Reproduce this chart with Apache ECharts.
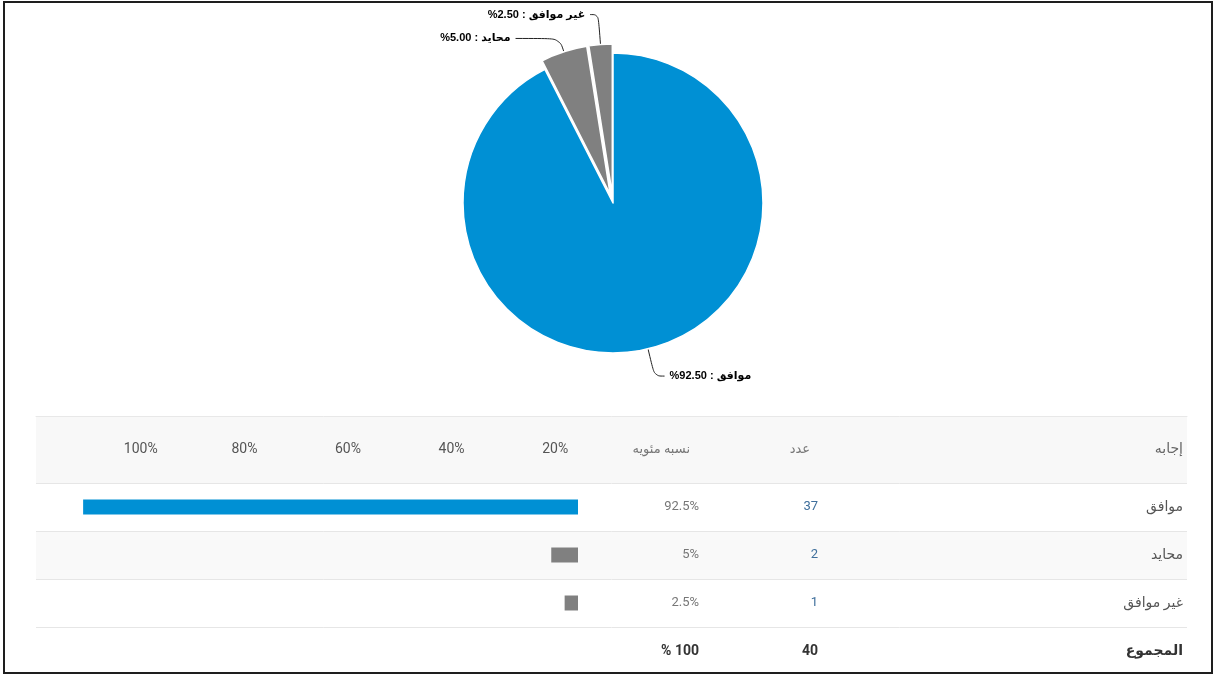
<!DOCTYPE html>
<html lang="ar">
<head>
<meta charset="utf-8">
<title>موافق / محايد / غير موافق</title>
<script src="https://cdn.jsdelivr.net/npm/echarts@6/dist/echarts.min.js"></script>
<style>
  html, body { margin: 0; padding: 0; background: #fff; }
  #chart { width: 1215px; height: 675px; }
</style>
</head>
<body>
<div id="chart"></div>
<script>
// Survey answers
const answers = ['موافق', 'محايد', 'غير موافق'];
const counts = [37, 2, 1];
const percents = [92.5, 5, 2.5];
const totalName = 'المجموع';
const totalCount = 40;
const totalPercentText = '% 100';
// Header scale labels above the bar column
const scaleTicks = ['100%', '80%', '60%', '40%', '20%'];
// Column headings
const headAnswer = 'إجابه';
const headCount = 'عدد';
const headPercent = 'نسبه مئويه';

const sliceColors = ['#0090d4', '#808080', '#808080'];
// leader line shape per slice: [first segment, second segment]
const leaderLines = [[28, 10], [14, 44], [30, 8]];
const FONT = 'Roboto, "DejaVu Sans", sans-serif';

const rowNames = answers.concat([totalName]);
const percentTexts = percents.map(p => p + '%').concat([totalPercentText]);
const countTexts = counts.map(String).concat([String(totalCount)]);

const pieData = answers.map((name, i) => ({
  name: name,
  value: counts[i],
  selected: i > 0,
  itemStyle: { color: sliceColors[i] },
  labelLine: { length: leaderLines[i][0], length2: leaderLines[i][1] }
}));

const barData = percents.map((v, i) => ({
  value: v,
  itemStyle: { color: sliceColors[i] }
}));

function lastBold() {
  return {
    formatter: (val, idx) => idx === rowNames.length - 1 ? '{b|' + val + '}' : val,
    rich: { b: { fontWeight: 'bold', color: '#333', fontSize: 14, fontFamily: FONT } }
  };
}

const hiddenCat = (gridIndex, data) => ({
  type: 'category', gridIndex: gridIndex, data: data, inverse: true, show: false
});

const textColumn = (data, offset, color) => ({
  type: 'category',
  gridIndex: 0,
  data: data,
  inverse: true,
  position: 'right',
  offset: offset,
  axisLine: { show: false },
  axisTick: { show: false },
  splitLine: { show: false },
  axisLabel: Object.assign({
    inside: true,
    margin: 0,
    color: color,
    fontSize: 13,
    fontFamily: FONT
  }, lastBold())
});

const chart = echarts.init(document.getElementById('chart'), null, { renderer: 'canvas' });

chart.setOption({
  backgroundColor: '#ffffff',
  animation: false,
  graphic: [{
    type: 'rect',
    shape: { x: 4, y: 2, width: 1208, height: 671 },
    style: { fill: 'none', stroke: '#1e1e1e', lineWidth: 2 },
    z: 100
  }],
  grid: [
    // 0: table rows (full width)
    { left: 36, right: 28, top: 483, height: 192 },
    // 1: header band
    { left: 36, right: 28, top: 416, height: 67, show: true, backgroundColor: '#f8f8f8', borderWidth: 0 },
    // 2: bar column
    { left: 43, right: 637, top: 483, height: 192 },
    // 3: header scale labels
    { left: 89, width: 518, top: 416, height: 33 }
  ],
  xAxis: [
    { type: 'value', gridIndex: 0, show: false },
    {
      type: 'category', gridIndex: 1, position: 'top', data: [''],
      axisLine: { show: true, lineStyle: { color: '#e8e8e8', width: 1 } },
      axisTick: { show: false }, axisLabel: { show: false }
    },
    { type: 'value', gridIndex: 2, min: 0, max: 100, inverse: true, show: false },
    {
      type: 'category', gridIndex: 3, data: scaleTicks,
      axisLine: { show: false }, axisTick: { show: false },
      axisLabel: { margin: 0, verticalAlign: 'middle', color: '#555', fontSize: 14, fontFamily: FONT }
    }
  ],
  yAxis: [
    // 0: answer names, row lines and shading
    {
      type: 'category',
      gridIndex: 0,
      data: rowNames,
      inverse: true,
      position: 'right',
      axisLine: { show: false },
      axisTick: { show: false },
      axisLabel: Object.assign({
        inside: true, margin: 4, color: '#555', fontSize: 14, fontFamily: FONT
      }, lastBold()),
      splitLine: { show: true, showMinLine: true, showMaxLine: false, lineStyle: { color: '#e6e6e6', width: 1 } },
      splitArea: { show: true, areaStyle: { color: ['rgba(255,255,255,0)', '#f9f9f9', 'rgba(255,255,255,0)', 'rgba(255,255,255,0)'] } }
    },
    // 1: percentage column
    textColumn(percentTexts, -488, '#777'),
    // 2: count column
    textColumn(countTexts, -369, '#3f6f9c'),
    // 3-5: header headings
    {
      type: 'category', gridIndex: 1, data: [headAnswer], position: 'right',
      axisLine: { show: false }, axisTick: { show: false },
      axisLabel: { inside: true, margin: 4, color: '#666', fontSize: 14, fontFamily: FONT }
    },
    {
      type: 'category', gridIndex: 1, data: [headCount], position: 'right', offset: -377,
      axisLine: { show: false }, axisTick: { show: false },
      axisLabel: { inside: true, margin: 0, color: '#777', fontSize: 13, fontFamily: FONT }
    },
    {
      type: 'category', gridIndex: 1, data: [headPercent], position: 'right', offset: -497,
      axisLine: { show: false }, axisTick: { show: false },
      axisLabel: { inside: true, margin: 0, color: '#777', fontSize: 13, fontFamily: FONT }
    },
    // 6: bar column categories
    hiddenCat(2, rowNames),
    // 7: header scale grid
    { type: 'value', gridIndex: 3, show: false }
  ],
  series: [
    {
      type: 'pie',
      center: [613, 203],
      radius: 150,
      startAngle: 90,
      clockwise: true,
      selectedMode: 'multiple',
      selectedOffset: 9,
      avoidLabelOverlap: false,
      itemStyle: { borderColor: '#fff', borderWidth: 1.5 },
      label: {
        color: '#000',
        fontWeight: 'bold',
        fontSize: 11,
        fontFamily: '"Liberation Sans", "DejaVu Sans", sans-serif',
        formatter: p => '%' + p.percent.toFixed(2) + ' : ' + p.name
      },
      labelLine: {
        show: true,
        smooth: 0.4,
        lineStyle: { color: '#222', width: 1 }
      },
      emphasis: { disabled: true },
      data: pieData
    },
    {
      type: 'bar',
      xAxisIndex: 2,
      yAxisIndex: 6,
      barWidth: 15,
      data: barData,
      silent: true
    }
  ]
});
</script>
</body>
</html>
